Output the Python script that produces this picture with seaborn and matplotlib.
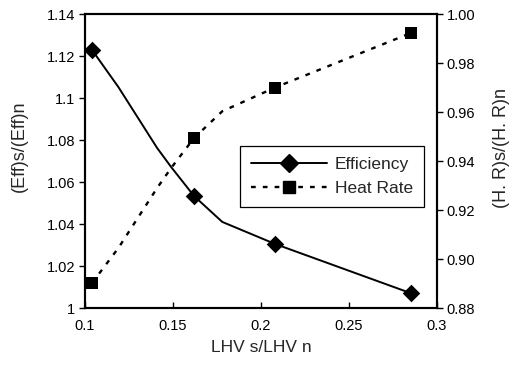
import matplotlib
matplotlib.use("Agg")
import matplotlib.pyplot as plt
import seaborn as sns
import pandas as pd
from matplotlib.lines import Line2D
from matplotlib.ticker import FuncFormatter, MultipleLocator

# Data
lhv = [0.104, 0.119, 0.141, 0.149, 0.162, 0.178, 0.208, 0.285]
efficiency = [1.1229, 1.1052, 1.0762, 1.0671, 1.0533, 1.0410, 1.0305, 1.0071]
heat_rate = [0.8902, 0.9045, 0.9290, 0.9372, 0.9494, 0.9603, 0.9700, 0.9922]
marker_idx = [0, 4, 6, 7]

df = pd.DataFrame({"lhv": lhv, "eff": efficiency, "hr": heat_rate})
dfm = df.iloc[marker_idx]

sns.set_style("ticks")
plt.rcParams["font.family"] = ["Liberation Sans", "DejaVu Sans"]

fig = plt.figure(figsize=(5.15, 3.69), dpi=100)
ax = fig.add_axes([0.165, 0.1653, 0.6835, 0.7967])
ax2 = ax.twinx()

dash = (0, (2.0, 3.0))

sns.lineplot(data=df, x="lhv", y="eff", ax=ax, color="black", lw=1.4, sort=False)
sns.scatterplot(data=dfm, x="lhv", y="eff", ax=ax, color="black", marker="D", s=80,
                edgecolor="black", linewidth=0, zorder=5)

sns.lineplot(data=df, x="lhv", y="hr", ax=ax2, color="black", lw=1.7, sort=False,
             linestyle=dash)
sns.scatterplot(data=dfm, x="lhv", y="hr", ax=ax2, color="black", marker="s", s=85,
                edgecolor="black", linewidth=0, zorder=5)

ax.set_xlim(0.1, 0.3)
ax.set_ylim(1.0, 1.14)
ax2.set_ylim(0.88, 1.0)
ax.xaxis.set_major_locator(MultipleLocator(0.05))
ax.yaxis.set_major_locator(MultipleLocator(0.02))
ax2.yaxis.set_major_locator(MultipleLocator(0.02))
ax.xaxis.set_major_formatter(FuncFormatter(lambda v, p: f"{v:g}"))
ax.yaxis.set_major_formatter(FuncFormatter(lambda v, p: f"{round(v, 2):g}"))
ax2.yaxis.set_major_formatter(FuncFormatter(lambda v, p: f"{v:.2f}"))

fs = 10.5
ax.tick_params(axis="x", direction="in", length=4, width=1, labelsize=fs, pad=8, colors="black")
ax.tick_params(axis="y", direction="out", length=4, width=1, labelsize=fs, pad=3, colors="black")
ax2.tick_params(axis="y", direction="out", length=4, width=1, labelsize=fs, pad=3, colors="black")

for a in (ax, ax2):
    for s in a.spines.values():
        s.set_visible(True)
        s.set_color("black")
        s.set_linewidth(1.5)

ax.set_xlabel("LHV s/LHV n", fontsize=12.5, labelpad=5)
ax.set_ylabel("(Eff)s/(Eff)n", fontsize=13)
ax2.set_ylabel("(H. R)s/(H. R)n", fontsize=13)
ax.yaxis.set_label_coords(-0.162, 0.55)
ax2.yaxis.set_label_coords(1.16, 0.545)

handles = [
    Line2D([], [], color="black", lw=1.4, marker="D", markersize=9),
    Line2D([], [], color="black", lw=1.7, linestyle=dash, marker="s", markersize=9),
]
leg = ax2.legend(handles, ["Efficiency", "Heat Rate"], loc="upper left",
                 bbox_to_anchor=(0.44, 0.55), borderaxespad=0, fontsize=12.5,
                 handlelength=4.4, handletextpad=0.45, frameon=True, fancybox=False,
                 edgecolor="black", framealpha=1, borderpad=0.62, labelspacing=0.5)
leg.get_frame().set_linewidth(0.9)

fig.savefig("out.png", dpi=100)
